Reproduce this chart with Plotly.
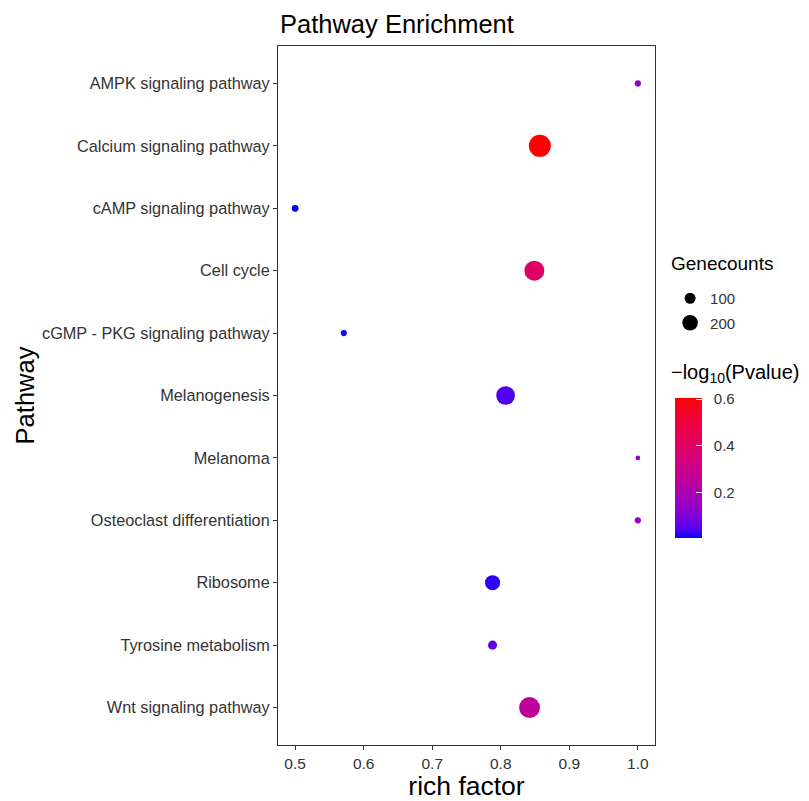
import plotly.graph_objects as go
import numpy as np

# ---- data ----
pathways = [
    "AMPK signaling pathway",
    "Calcium signaling pathway",
    "cAMP signaling pathway",
    "Cell cycle",
    "cGMP - PKG signaling pathway",
    "Melanogenesis",
    "Melanoma",
    "Osteoclast differentiation",
    "Ribosome",
    "Tyrosine metabolism",
    "Wnt signaling pathway",
]
rich_factor = [1.0, 0.857, 0.5, 0.849, 0.571, 0.807, 1.0, 1.0, 0.788, 0.788, 0.842]
gene_counts = [32, 400, 38, 330, 32, 290, 18, 32, 190, 68, 360]
neg_log10_p = [0.13, 0.605, 0.005, 0.40, 0.014, 0.04, 0.13, 0.14, 0.023, 0.055, 0.26]

legend_counts = [100, 200]
x_ticks = [0.5, 0.6, 0.7, 0.8, 0.9, 1.0]
cbar_ticks = [0.2, 0.4, 0.6]

# ---- size scale (diameter proportional to sqrt(count)) ----
def size_scale(v):
    return 1.1 * np.sqrt(np.asarray(v, dtype=float))

# ---- blue -> red gradient interpolated in CIE Lab (like ggplot) ----
def _lin(c):
    c = c / 255.0
    return np.where(c <= 0.04045, c / 12.92, ((c + 0.055) / 1.055) ** 2.4)

def _delin(c):
    c = np.clip(c, 0, 1)
    return np.where(c <= 0.0031308, 12.92 * c, 1.055 * c ** (1 / 2.4) - 0.055)

M = np.array([[0.4124564, 0.3575761, 0.1804375],
              [0.2126729, 0.7151522, 0.0721750],
              [0.0193339, 0.1191920, 0.9503041]])
Minv = np.linalg.inv(M)
WP = np.array([0.95047, 1.0, 1.08883])

def rgb2lab(rgb):
    xyz = M @ _lin(np.array(rgb, dtype=float)) / WP
    f = np.where(xyz > 216 / 24389, np.cbrt(xyz), (24389 / 27 * xyz + 16) / 116)
    return np.array([116 * f[1] - 16, 500 * (f[0] - f[1]), 200 * (f[1] - f[2])])

def lab2rgb(lab):
    L, a, b = lab
    fy = (L + 16) / 116
    fx = fy + a / 500
    fz = fy - b / 200
    def finv(t):
        return t ** 3 if t ** 3 > 216 / 24389 else (116 * t - 16) / (24389 / 27)
    xyz = np.array([finv(fx), finv(fy), finv(fz)]) * WP
    rgb = _delin(Minv @ xyz) * 255
    return "rgb(%d,%d,%d)" % tuple(np.round(np.clip(rgb, 0, 255)).astype(int))

lab_lo = rgb2lab([0, 0, 255])
lab_hi = rgb2lab([255, 0, 0])
colorscale = [[t, lab2rgb(lab_lo + t * (lab_hi - lab_lo))] for t in np.linspace(0, 1, 21)]

FONT = "Liberation Sans, Arial, sans-serif"
W, H = 793, 793
T, B = 38, 56
PH = H - T - B  # plot height in px
NB = "\u00a0\u00a0"

def py(win_y):
    # window pixel y -> paper coordinate
    return (H - B - (win_y - 8)) / PH

fig = go.Figure()

fig.add_trace(go.Scatter(
    x=rich_factor, y=pathways, mode="markers", showlegend=False,
    marker=dict(
        size=size_scale(gene_counts), sizemode="diameter",
        color=neg_log10_p, colorscale=colorscale,
        line=dict(width=0), opacity=1,
        colorbar=dict(
            x=1.053, xanchor="left", xpad=0,
            y=py(468), yanchor="middle", ypad=0,
            len=140, lenmode="pixels", thickness=27,
            outlinewidth=0,
            tickvals=cbar_ticks, ticktext=[NB + "0.2", NB + "0.4", NB + "0.6"],
            ticks="inside", ticklen=6, tickcolor="white", tickwidth=1,
            tickfont=dict(size=15, color="#333333", family=FONT),
        ),
    ),
    hovertemplate="%{y}<br>rich factor=%{x}<extra></extra>",
))

for i, c in enumerate(legend_counts):
    fig.add_trace(go.Scatter(
        x=[None], y=[None], mode="markers", name=str(c),
        legendgroup="g%d" % i, showlegend=True,
        marker=dict(size=size_scale([c])[0], color="black", line=dict(width=0)),
    ))

fig.update_layout(
    width=W, height=H,
    margin=dict(l=270, r=146, t=T, b=B, autoexpand=False),
    paper_bgcolor="white", plot_bgcolor="white",
    font=dict(family=FONT, color="#000000"),
    title=dict(text="Pathway Enrichment", x=272 / W, xanchor="left", xref="container",
               y=1 - 16 / H, yanchor="middle", yref="container",
               font=dict(size=25.5, color="#000000", family=FONT)),
    legend=dict(
        x=1.040, xanchor="left", y=py(282), yanchor="top",
        itemsizing="trace", tracegroupgap=2,
        font=dict(size=15, color="#333333", family=FONT),
        bgcolor="rgba(0,0,0,0)",
    ),
    annotations=[
        dict(text="Genecounts", xref="paper", yref="paper", x=1.037, y=py(263),
             xanchor="left", yanchor="middle", showarrow=False,
             font=dict(size=19, color="#000000", family=FONT)),
        dict(text="\u2212log<sub>10</sub>(Pvalue)", xref="paper", yref="paper", x=1.037, y=py(373),
             xanchor="left", yanchor="middle", showarrow=False,
             font=dict(size=20, color="#000000", family=FONT)),
    ],
    xaxis=dict(
        range=[0.475, 1.025], tickvals=x_ticks, tickformat=".1f",
        showgrid=False, zeroline=False,
        showline=True, mirror=True, linecolor="#333333", linewidth=1,
        ticks="outside", ticklen=4, tickcolor="#333333",
        tickfont=dict(size=15.5, color="#333333", family=FONT),
        title=dict(text="rich factor", font=dict(size=26.5, color="#000000", family=FONT), standoff=2),
    ),
    yaxis=dict(
        categoryorder="array", categoryarray=pathways,
        range=[len(pathways) - 0.4, -0.6],
        showgrid=False, zeroline=False,
        showline=True, mirror=True, linecolor="#333333", linewidth=1,
        ticks="outside", ticklen=4, tickcolor="#333333",
        tickfont=dict(size=16.3, color="#333333", family=FONT),
        title=dict(text="Pathway", font=dict(size=25.5, color="#000000", family=FONT), standoff=0),
    ),
)

fig.write_html("out.html")
